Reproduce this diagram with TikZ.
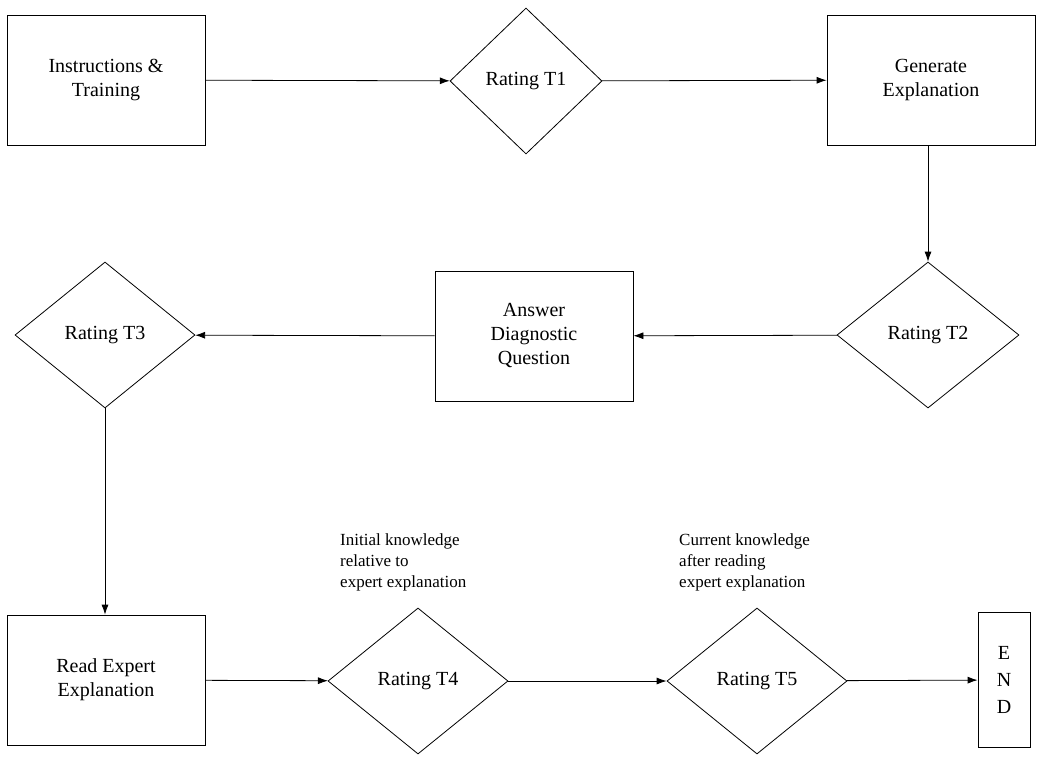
\documentclass[tikz,border=0pt]{standalone}
\usepackage{fontspec}
\setmainfont{Liberation Serif}
\usetikzlibrary{shapes.geometric,arrows.meta}
\begin{document}
\begin{tikzpicture}[x=1pt,y=-1pt,
  box/.style={draw,line width=0.8pt,minimum width=198pt,minimum height=130pt,align=center,font=\fontsize{20}{24}\selectfont,inner sep=0},
  dia/.style={draw,line width=0.8pt,diamond,minimum width=180pt,minimum height=146pt,inner sep=0,font=\fontsize{20}{24}\selectfont},
  lab/.style={align=left,font=\fontsize{17}{21}\selectfont,anchor=south west,inner sep=0},
  arr/.style={-{Latex[length=10pt,width=7pt]},line width=0.8pt}]
\useasboundingbox (0,0) rectangle (1050,761);
\node[box] (a) at (106,80) {Instructions \&\\Training};
\node[dia,minimum width=152pt] (t1) at (526,81) {Rating T1};
\node[box,minimum width=208pt] (g) at (931,80) {Generate\\Explanation};
\node[dia,minimum width=182pt] (t2) at (928,335) {Rating T2};
\node[box] (q) at (534,336) {Answer\\Diagnostic\\Question};
\node[dia] (t3) at (105,335) {Rating T3};
\node[box] (r) at (106,680) {Read Expert\\Explanation};
\node[dia] (t4) at (418,681) {Rating T4};
\node[dia] (t5) at (757,681) {Rating T5};
\node[draw,line width=0.8pt,minimum width=52pt,minimum height=135pt,align=center,inner sep=0,font=\fontsize{20}{27}\selectfont] (e) at (1004,680) {E\\N\\D};
\node[lab] (l4) at (340,591) {Initial knowledge\\relative to\\expert explanation};
\node[lab] (l5) at (679,591) {Current knowledge\\after reading\\expert explanation};
\draw[arr] (a) -- (t1);
\draw[arr] (t1) -- (g);
\draw[arr] (g.south -| t2.north) -- (t2);
\draw[arr] (t2) -- (q);
\draw[arr] (q) -- (t3);
\draw[arr] (t3.south) -- (t3.south |- r.north);
\draw[arr] (r) -- (t4);
\draw[arr] (t4) -- (t5);
\draw[arr] (t5) -- (e);
\end{tikzpicture}
\end{document}
